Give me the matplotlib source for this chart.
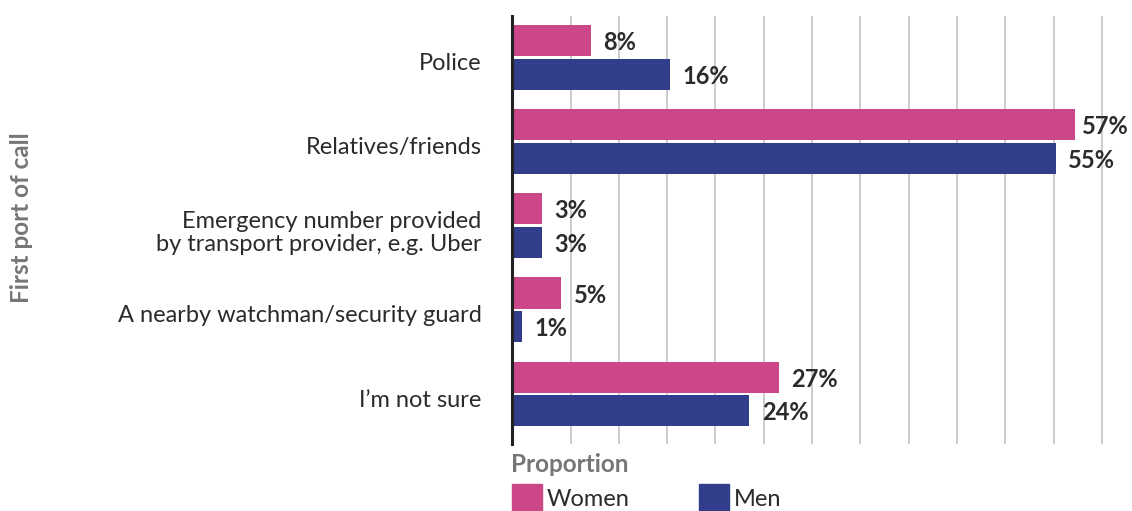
import numpy as np
import matplotlib
matplotlib.use("Agg")
import matplotlib.pyplot as plt
import matplotlib.transforms as mtransforms
from matplotlib.patches import Rectangle

plt.rcParams["font.family"] = ["Lato", "DejaVu Sans"]

categories = [
    "Police",
    "Relatives/friends",
    "Emergency number provided\nby transport provider, e.g. Uber",
    "A nearby watchman/security guard",
    "I\u2019m not sure",
]
women = [8, 57, 3, 5, 27]
men = [16, 55, 3, 1, 24]
series_names = ["Women", "Men"]

PINK = "#CB4788"
NAVY = "#323E8B"
TEXT = "#2B2B2B"
GREY = "#767676"
FS = 17

fig = plt.figure(figsize=(11.32, 5.11), dpi=100)
ax = fig.add_axes([512 / 1132, 67 / 511, 591 / 1132, 428 / 511])

y = np.arange(len(categories))
h = 0.37
off = 0.2
bw = ax.barh(y - off, women, height=h, color=PINK, zorder=3)
bm = ax.barh(y + off, men, height=h, color=NAVY, zorder=3)

value_labels = []
for bars, vals in ((bw, women), (bm, men)):
    for rect, v in zip(bars, vals):
        t = ax.annotate(f"{v}%", (rect.get_width(), rect.get_y() + rect.get_height() / 2),
                        xytext=(9, -1.5), textcoords="offset points",
                        va="center", ha="left", fontsize=FS, fontweight="bold",
                        color=TEXT, annotation_clip=False)
        value_labels.append(t)

ax.set_xlim(0, 59.8)
ax.set_ylim(len(categories) - 1 + 0.594, -0.49)
ax.set_xticks(5.92 + 4.89 * np.arange(12))
ax.set_xticklabels([])
ax.tick_params(axis="x", length=0)
ax.grid(axis="x", color="#C4C4C4", linewidth=1.2, zorder=0)

ax.set_yticks(y)
ax.set_yticklabels(categories, fontsize=FS, color=TEXT, linespacing=1.12)
ax.tick_params(axis="y", length=0, pad=22)
shift = mtransforms.ScaledTranslation(0, -3 / 72, fig.dpi_scale_trans)
for lab in ax.get_yticklabels():
    lab.set_transform(lab.get_transform() + shift)

for s in ("top", "right", "bottom"):
    ax.spines[s].set_visible(False)
ax.spines["left"].set_color("#222222")
ax.spines["left"].set_linewidth(2.2)
ax.spines["left"].set_zorder(4)

fig.text(511 / 1132, 1 - 464 / 511, "Proportion", ha="left", va="center",
         fontsize=17.5, fontweight="bold", color=GREY)
fig.text(22 / 1132, 1 - 218 / 511, "First port of call", ha="center", va="center",
         rotation=90, fontsize=17.5, fontweight="bold", color=GREY)

# legend swatches
for x0, col, name in ((512, PINK, series_names[0]), (699, NAVY, series_names[1])):
    fig.patches.append(Rectangle((x0 / 1132, 1 - 514 / 511), 30 / 1132, 30 / 511,
                                 transform=fig.transFigure, color=col))
    fig.text((x0 + 35) / 1132, 1 - 499 / 511, name, ha="left", va="center",
             fontsize=FS, color=TEXT)

# pull any value label that runs past the right edge back inside
renderer = fig.canvas.get_renderer()
fig_w = fig.bbox.width
for t in value_labels:
    bb = t.get_window_extent(renderer)
    over = bb.x1 - (fig_w - 3)
    if over > 0:
        x, yy = t.xyann
        t.xyann = (x - over * 72 / fig.dpi, yy)

fig.savefig("out.png", dpi=100, facecolor="white")
